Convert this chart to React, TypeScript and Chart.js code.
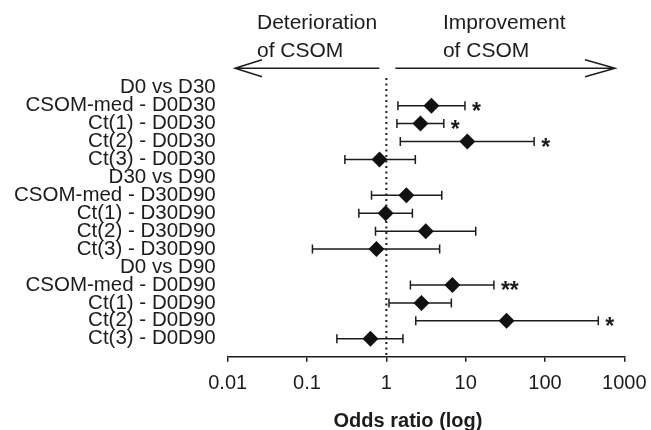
import React, { useEffect, useRef } from 'react';
import { Chart, registerables } from 'chart.js';

Chart.register(...registerables);

const categories = [
  'D0 vs D30',
  'CSOM-med - D0D30',
  'Ct(1) - D0D30',
  'Ct(2) - D0D30',
  'Ct(3) - D0D30',
  'D30 vs D90',
  'CSOM-med - D30D90',
  'Ct(1) - D30D90',
  'Ct(2) - D30D90',
  'Ct(3) - D30D90',
  'D0 vs D90',
  'CSOM-med - D0D90',
  'Ct(1) - D0D90',
  'Ct(2) - D0D90',
  'Ct(3) - D0D90',
];
const oddsRatio = [null, 3.7, 2.69, 10.5, 0.82, null, 1.79, 0.98, 3.14, 0.75, null, 6.8, 2.77, 32.8, 0.63];
const ciLow = [null, 1.4, 1.36, 1.5, 0.3, null, 0.65, 0.45, 0.73, 0.117, null, 2.01, 1.08, 2.35, 0.238];
const ciHigh = [null, 9.8, 5.3, 73, 2.32, null, 5.0, 2.13, 13.4, 4.7, null, 22.7, 6.6, 470, 1.62];
const significance = ['', '*', '*', '*', '', '', '', '', '', '', '', '**', '', '*', ''];
const xTicks = [0.01, 0.1, 1, 10, 100, 1000];
const xTickLabels = ['0.01', '0.1', '1', '10', '100', '1000'];
const leftNote = ['Deterioration', 'of CSOM'];
const rightNote = ['Improvement', 'of CSOM'];
const xTitle = 'Odds ratio (log)';

const FONT = '"Liberation Sans", Arial, sans-serif';
const INK = '#1c1c1c';

const forestPlugin = {
  id: 'forest',
  beforeDatasetsDraw(chart: any) {
    const { ctx, chartArea, scales } = chart;
    const x = scales.x;
    const y = scales.y;
    ctx.save();
    const x1 = x.getPixelForValue(1);
    ctx.strokeStyle = INK;
    ctx.lineWidth = 2;
    ctx.setLineDash([2, 3.5]);
    ctx.beginPath();
    ctx.moveTo(x1, 78);
    ctx.lineTo(x1, chartArea.bottom);
    ctx.stroke();
    ctx.setLineDash([]);
    ctx.lineWidth = 1.5;
    categories.forEach((_, i) => {
      const lo = ciLow[i];
      const hi = ciHigh[i];
      if (lo == null || hi == null) return;
      const py = y.getPixelForValue(i);
      const a = x.getPixelForValue(lo);
      const b = x.getPixelForValue(hi);
      ctx.beginPath();
      ctx.moveTo(a, py);
      ctx.lineTo(b, py);
      ctx.moveTo(a, py - 4.5);
      ctx.lineTo(a, py + 4.5);
      ctx.moveTo(b, py - 4.5);
      ctx.lineTo(b, py + 4.5);
      ctx.stroke();
    });
    ctx.restore();
  },
  afterDatasetsDraw(chart: any) {
    const { ctx, scales } = chart;
    const x = scales.x;
    const y = scales.y;
    ctx.save();
    ctx.fillStyle = INK;
    ctx.strokeStyle = INK;
    // significance stars
    ctx.font = `bold 23px ${FONT}`;
    ctx.textAlign = 'left';
    ctx.textBaseline = 'alphabetic';
    categories.forEach((_, i) => {
      const s = significance[i];
      const hi = ciHigh[i];
      if (!s || hi == null) return;
      const py = y.getPixelForValue(i);
      ctx.fillText(s, x.getPixelForValue(hi) + 7, py + 13);
    });
    // arrows
    const x1 = x.getPixelForValue(1);
    const lTip = x.getPixelForValue(0.01) + 7.3;
    const rTip = x.getPixelForValue(1000) - 9.3;
    const ay = 68.3;
    ctx.lineWidth = 1.5;
    ctx.beginPath();
    ctx.moveTo(x1 - 7, ay);
    ctx.lineTo(lTip, ay);
    ctx.moveTo(lTip + 27, ay - 8.5);
    ctx.lineTo(lTip, ay);
    ctx.lineTo(lTip + 27, ay + 8.5);
    ctx.moveTo(x1 + 9, ay);
    ctx.lineTo(rTip, ay);
    ctx.moveTo(rTip - 30, ay - 8.5);
    ctx.lineTo(rTip, ay);
    ctx.lineTo(rTip - 30, ay + 8.5);
    ctx.stroke();
    // notes
    ctx.font = `21px ${FONT}`;
    ctx.textAlign = 'left';
    ctx.fillText(leftNote[0], lTip + 22, 29.3);
    ctx.fillText(leftNote[1], lTip + 22, 57.3);
    ctx.fillText(rightNote[0], x1 + 56.6, 29.3);
    ctx.fillText(rightNote[1], x1 + 56.6, 57.3);
    // axis title
    ctx.font = `bold 20px ${FONT}`;
    ctx.textAlign = 'center';
    ctx.fillText(xTitle, 408, 427);
    ctx.restore();
  },
};

export default function App() {
  const ref = useRef<HTMLCanvasElement | null>(null);
  useEffect(() => {
    if (!ref.current) return;
    const points = categories
      .map((_, i) => (oddsRatio[i] == null ? null : { x: oddsRatio[i] as number, y: i }))
      .filter((p) => p !== null);
    const chart = new Chart(ref.current, {
      type: 'scatter',
      data: {
        datasets: [
          {
            label: 'Odds ratio',
            data: points as any,
            pointStyle: 'rectRot',
            pointRadius: 8,
            pointHoverRadius: 8,
            backgroundColor: '#111',
            borderColor: '#111',
            borderWidth: 0,
          },
        ],
      },
      options: {
        responsive: false,
        animation: false,
        layout: { padding: { left: 7.7, top: 69.8, right: 26.7, bottom: 0 } },
        plugins: { legend: { display: false }, tooltip: { enabled: false } },
        scales: {
          x: {
            type: 'logarithmic',
            position: 'bottom',
            min: 0.01,
            max: 1000,
            afterBuildTicks: (s: any) => {
              s.ticks = xTicks.map((v) => ({ value: v }));
            },
            afterFit: (s: any) => {
              s.height = 73.3;
              s.paddingLeft = 0;
              s.paddingRight = 0;
            },
            ticks: {
              autoSkip: false,
              maxRotation: 0,
              padding: 10,
              color: INK,
              font: { family: FONT, size: 20 },
              callback: (v: any) => {
                const idx = xTicks.findIndex((t) => Math.abs(Math.log10(t) - Math.log10(Number(v))) < 1e-6);
                return idx >= 0 ? xTickLabels[idx] : '';
              },
            },
            grid: { display: true, drawOnChartArea: false, drawTicks: true, tickLength: 5, color: INK, lineWidth: 1.5 },
            border: { display: true, color: INK, width: 1.5 },
          },
          y: {
            type: 'linear',
            reverse: true,
            min: -1,
            max: 15,
            afterBuildTicks: (s: any) => {
              s.ticks = categories.map((_, i) => ({ value: i }));
            },
            afterFit: (s: any) => {
              s.width = 220;
            },
            ticks: {
              autoSkip: false,
              padding: 12,
              color: INK,
              font: { family: FONT, size: 20.5 },
              callback: (v: any) => categories[Number(v)] ?? '',
            },
            grid: { display: false, drawTicks: false, tickLength: 0 },
            border: { display: false },
          },
        },
      },
      plugins: [forestPlugin],
    });
    return () => chart.destroy();
  }, []);
  return (
    <div style={{ position: 'fixed', left: 0, top: 0, width: 651, height: 430, background: '#fff' }}>
      <canvas ref={ref} width={651} height={430} style={{ display: 'block' }} />
    </div>
  );
}
